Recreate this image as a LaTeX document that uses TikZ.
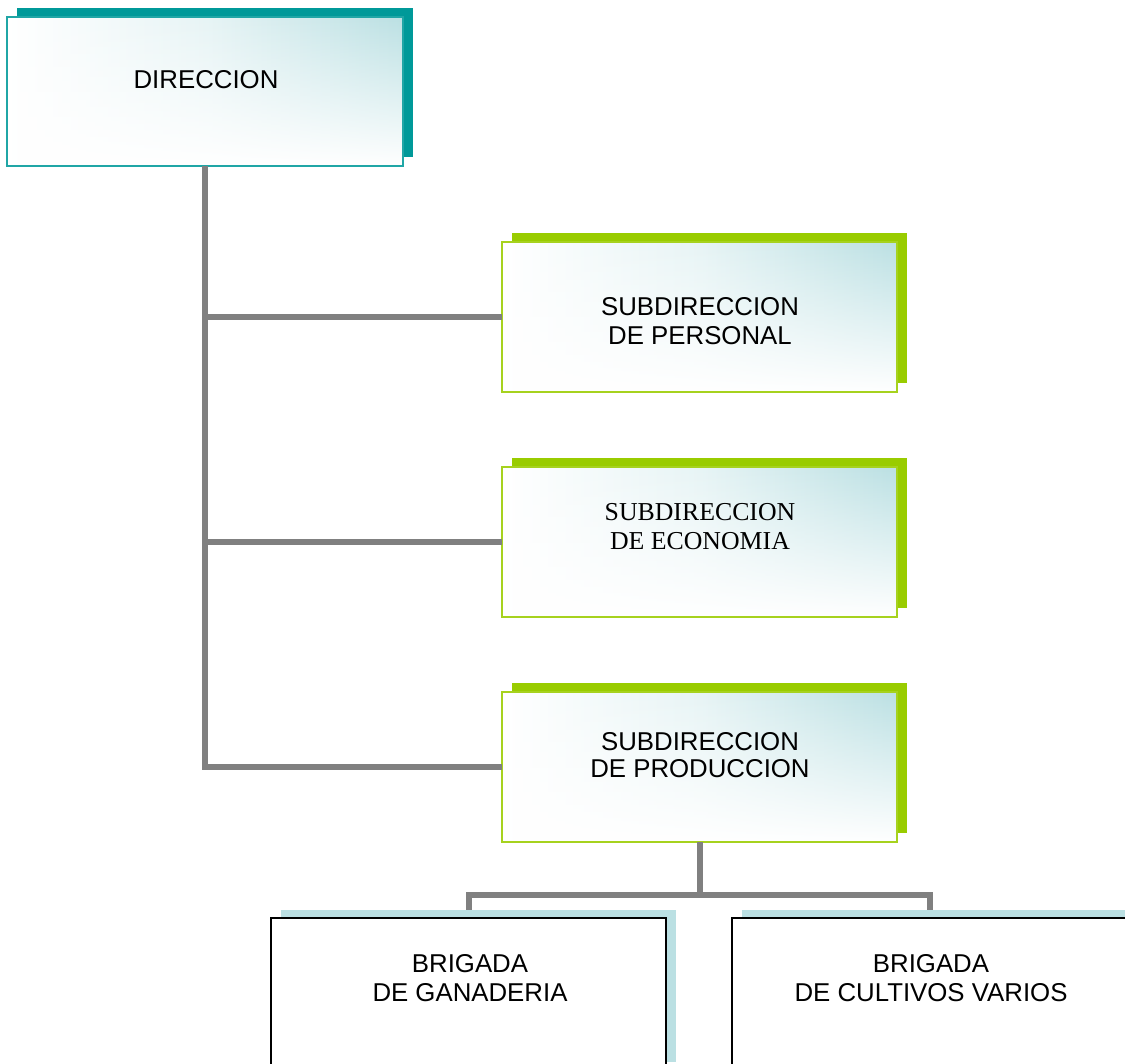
\documentclass[tikz,border=0pt]{standalone}
\usepackage{fontspec}
\setmainfont{Liberation Serif}
\newfontfamily\arialf{Liberation Sans}
\usetikzlibrary{shadows,fadings}
\definecolor{tealc}{HTML}{009999}
\definecolor{tealb}{HTML}{20A6A6}
\definecolor{greenc}{HTML}{99CC00}
\definecolor{greenb}{HTML}{A6D21E}
\definecolor{lbc}{HTML}{BBE0E3}
\definecolor{grayc}{HTML}{808080}
\tikzfading[name=botfade, top color=transparent!100, middle color=transparent!75, bottom color=transparent!0]
\begin{document}
\begin{tikzpicture}[x=1pt,y=-1pt,
  gradbox/.style={rectangle, line width=2pt, inner sep=0pt, outer sep=0pt,
    left color=white, right color=lbc, middle color=lbc!35,
    path picture={\fill[white, path fading=botfade] (path picture bounding box.south west) rectangle (path picture bounding box.north east);}},
  dirbox/.style={gradbox, draw=tealb, minimum width=396pt, minimum height=149pt,
    general shadow={fill=tealc, shadow xshift=10pt, shadow yshift=9pt}},
  subbox/.style={gradbox, draw=greenb, minimum width=395pt, minimum height=150pt,
    general shadow={fill=greenc, shadow xshift=10pt, shadow yshift=9pt}},
  brbox/.style={rectangle, draw=black, fill=white, line width=2pt, inner sep=0pt, outer sep=0pt,
    minimum width=395pt, minimum height=152pt,
    general shadow={fill=lbc, shadow xshift=10pt, shadow yshift=8pt}},
  lbl/.style={align=center, inner sep=0pt, font=\arialf\fontsize{25.8}{29}\selectfont},
  conn/.style={draw=grayc, line width=6pt}]
\useasboundingbox (0,0) rectangle (1125,1064);
% boxes
\node[dirbox] (dir) at (205,91.5) {};
\node[subbox] (pers) at (699.5,317) {};
\node[subbox] (econ) at (699.5,542) {};
\node[subbox] (prod) at (699.5,767) {};
\node[brbox] (bl) at (468.5,994) {};
\node[brbox] (br) at (929.5,994) {};
% labels
\node[lbl] (tdir) at (206,80) {DIRECCION};
\node[lbl] (tpers) at (700,321.5) {SUBDIRECCION\\DE PERSONAL};
\node[lbl, font=\rmfamily\fontsize{25.8}{29}\selectfont] (tecon) at (700,526.5) {SUBDIRECCION\\DE ECONOMIA};
\node[lbl, font=\arialf\fontsize{25.8}{27}\selectfont] (tprod) at (700,755.5) {SUBDIRECCION\\DE PRODUCCION};
\node[lbl] (tbl) at (470,978.5) {BRIGADA\\DE GANADERIA};
\node[lbl] (tbr) at (931,978.5) {BRIGADA\\DE CULTIVOS VARIOS};
% connectors
\draw[conn] (dir.south) |- (prod.west);
\draw[conn] (dir.south |- pers.west) -- (pers.west);
\draw[conn] (dir.south |- econ.west) -- (econ.west);
\coordinate (split) at (699.5,895);
\draw[conn] (prod.south) -- (split);
\draw[conn] (split) -| ([yshift=8pt]bl.north);
\draw[conn] (split) -| ([yshift=8pt]br.north);
\end{tikzpicture}
\end{document}
